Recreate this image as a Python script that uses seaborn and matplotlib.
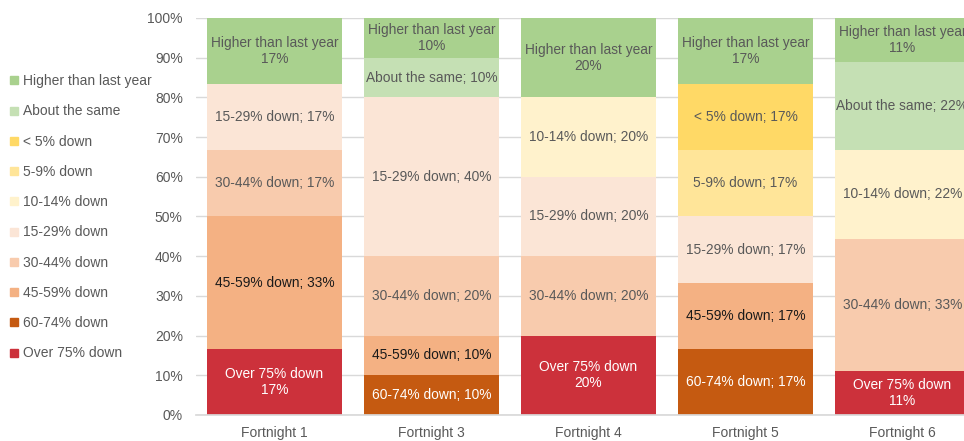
import matplotlib
matplotlib.use("Agg")
import matplotlib.pyplot as plt
import seaborn as sns
import numpy as np
import pandas as pd
from matplotlib.lines import Line2D

# ---- data ----
fortnights = ["Fortnight 1", "Fortnight 3", "Fortnight 4", "Fortnight 5", "Fortnight 6"]

# stacking order, bottom to top
categories = ["Over 75% down", "60-74% down", "45-59% down", "30-44% down", "15-29% down",
              "10-14% down", "5-9% down", "< 5% down", "About the same", "Higher than last year"]

over75 = [16.67, 0, 20, 0, 11.11]
d60_74 = [0, 10, 0, 16.67, 0]
d45_59 = [33.33, 10, 0, 16.67, 0]
d30_44 = [16.67, 20, 20, 0, 33.33]
d15_29 = [16.67, 40, 20, 16.67, 0]
d10_14 = [0, 0, 20, 0, 22.22]
d5_9 = [0, 0, 0, 16.67, 0]
d_lt5 = [0, 0, 0, 16.67, 0]
same = [0, 10, 0, 0, 22.22]
higher = [16.67, 10, 20, 16.67, 11.11]

series = [over75, d60_74, d45_59, d30_44, d15_29, d10_14, d5_9, d_lt5, same, higher]

colors = ["#cc313b", "#c55a11", "#f4b183", "#f8cbad", "#fbe5d6",
          "#fff2cc", "#ffe599", "#ffd966", "#c5e0b4", "#a9d18e"]
text_colors = ["white", "white", "#1a1a1a", "#595959", "#595959",
               "#595959", "#595959", "#595959", "#595959", "#595959"]

# ---- figure ----
sns.set_theme(style="white")
plt.rcParams["font.family"] = ["Liberation Sans", "DejaVu Sans"]

fig = plt.figure(figsize=(9.64, 4.41), dpi=100)
ax = fig.add_axes([196 / 964, 1 - 415 / 441, 785 / 964, 397 / 441])

vals = np.array(series)
cum = np.cumsum(vals, axis=0)

# draw cumulative bars from top layer to bottom so each covers the one below
for i in range(len(categories) - 1, -1, -1):
    df = pd.DataFrame({"fortnight": fortnights, "value": cum[i]})
    sns.barplot(data=df, x="fortnight", y="value", color=colors[i], saturation=1,
                width=0.86, linewidth=0, ax=ax, zorder=2)

# segment labels
for i, cat in enumerate(categories):
    for j, f in enumerate(fortnights):
        v = vals[i, j]
        if v <= 0:
            continue
        mid = cum[i, j] - v / 2
        pct = f"{int(round(v))}%"
        if cat in ("Higher than last year", "Over 75% down"):
            label = f"{cat}\n{pct}"
        else:
            label = f"{cat}; {pct}"
        ax.text(j, mid, label, ha="center", va="center", fontsize=9.9,
                color=text_colors[i], zorder=5, linespacing=1.15)

ax.set_ylim(0, 100)
ax.set_xlim(-0.5, len(fortnights) - 0.5)
ax.set_yticks(np.arange(0, 101, 10))
ax.set_yticklabels([f"{t}%" for t in range(0, 101, 10)])
ax.yaxis.grid(True, color="#d9d9d9", linewidth=1, zorder=0)
ax.set_axisbelow(True)
ax.set_xlabel("")
ax.set_ylabel("")
for s in ["top", "right", "left"]:
    ax.spines[s].set_visible(False)
ax.spines["bottom"].set_color("#d9d9d9")
ax.tick_params(axis="both", length=0, colors="#595959", labelsize=10)
ax.tick_params(axis="y", pad=9.5)
ax.tick_params(axis="x", pad=8)

# legend (top to bottom)
handles = [Line2D([0], [0], marker="s", color="none", markerfacecolor=colors[i],
                  markeredgecolor=colors[i], markersize=5.5)
           for i in range(len(categories) - 1, -1, -1)]
labels = [categories[i] for i in range(len(categories) - 1, -1, -1)]
leg = fig.legend(handles, labels, loc="upper left", bbox_to_anchor=(6 / 964, 1 - 70 / 441),
                 frameon=False, fontsize=10, labelspacing=1.17, handlelength=0.6,
                 handletextpad=0.35, borderaxespad=0, borderpad=0.3)
for t in leg.get_texts():
    t.set_color("#595959")

fig.savefig("out.png", dpi=100)
